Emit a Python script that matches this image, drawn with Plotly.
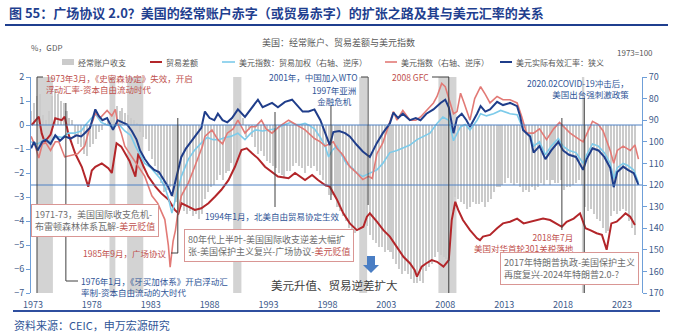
import plotly.graph_objects as go

# ---------------- data ----------------
# US current account balance, % of GDP, quarterly from 1973Q2
ca_first_year = 1973
ca_first_quarter = 2
current_account = [
    0.6, 0.9, 1.2,                 # 1973 Q2-Q4
    1.3, 0.4, 0.2, 0.6,            # 1974
    1.2, 1.5, 1.3, 1.0,            # 1975
    0.9, 0.6, 0.3, 0.2,            # 1976
    -0.5, -0.8, -0.9, -1.2,        # 1977
    -1.3, -0.9, -0.8, -0.6,        # 1978
    -0.3, -0.2, 0.1, 0.2,          # 1979
    0.2, 0.4, 0.8, 0.6,            # 1980
    0.7, 0.5, 0.4, 0.3,            # 1981
    0.2, 0.1, -0.3, -0.5,          # 1982
    -0.6, -1.1, -1.4, -1.7,        # 1983
    -2.1, -2.4, -2.8, -2.7,        # 1984
    -2.6, -3.0, -3.2, -3.5,        # 1985
    -3.4, -3.6, -3.7, -3.6,        # 1986
    -3.8, -3.7, -3.9, -3.7,        # 1987
    -3.1, -2.8, -2.6, -2.5,        # 1988
    -2.3, -2.1, -2.3, -2.0,        # 1989
    -1.9, -1.6, -1.8, -1.5,        # 1990
    0.9, 0.3, -0.5, -0.2,          # 1991
    -0.5, -0.9, -1.2, -1.1,        # 1992
    -1.3, -1.5, -1.6, -1.7,        # 1993
    -1.8, -2.0, -2.1, -2.2,        # 1994
    -1.9, -1.9, -1.7, -1.6,        # 1995
    -1.7, -1.8, -2.0, -1.7,        # 1996
    -1.8, -1.7, -1.9, -2.1,        # 1997
    -2.3, -2.6, -2.9, -2.9,        # 1998
    -3.0, -3.4, -3.6, -3.8,        # 1999
    -4.0, -4.3, -4.6, -4.5,        # 2000
    -4.3, -4.2, -4.1, -4.2,        # 2001
    -4.6, -4.8, -4.9, -5.1,        # 2002
    -5.1, -5.3, -5.2, -5.3,        # 2003
    -5.6, -5.8, -6.0, -6.2,        # 2004
    -6.1, -6.2, -6.4, -6.6,        # 2005
    -6.6, -6.5, -6.6, -6.1,        # 2006
    -5.9, -5.8, -5.5, -5.3,        # 2007
    -5.4, -5.5, -5.6, -5.0,        # 2008
    -3.6, -3.0, -3.1, -3.2,        # 2009
    -3.3, -3.5, -3.4, -3.2,        # 2010
    -3.3, -3.3, -3.2, -3.4,        # 2011
    -3.2, -3.1, -2.8, -2.6,        # 2012
    -2.6, -2.5, -2.4, -2.2,        # 2013
    -2.4, -2.5, -2.4, -2.6,        # 2014
    -2.8, -2.7, -2.8, -2.6,        # 2015
    -2.7, -2.6, -2.4, -2.5,        # 2016
    -2.3, -2.5, -2.3, -2.4,        # 2017
    -2.4, -2.3, -2.7, -2.6,        # 2018
    -2.6, -2.5, -2.4, -2.3,        # 2019
    -2.5, -3.4, -3.6, -3.5,        # 2020
    -3.7, -3.9, -4.0, -4.3,        # 2021
    -4.5, -4.4, -3.8, -3.6,        # 2022
    -3.7, -3.6, -3.5, -3.6,        # 2023
    -4.0, -4.3, -4.6,              # 2024 Q1-Q3
]

# Trade balance, % of GDP (left axis)
trade_t = [1973.4, 1974.0, 1974.25, 1974.5, 1975.0, 1975.4, 1975.95, 1976.2, 1976.5, 1977.1,
           1977.65, 1978.2, 1978.5, 1978.8, 1979.35, 1979.9, 1980.2, 1980.6, 1981.0, 1981.3,
           1981.7, 1982.2, 1982.45, 1982.9, 1983.3, 1983.9, 1984.4, 1985.0, 1985.55, 1985.85,
           1986.1, 1986.7, 1987.25, 1987.8, 1988.4, 1988.95, 1989.5, 1990.1, 1990.65, 1991.2,
           1991.65, 1992.1, 1992.6, 1993.2, 1993.8, 1994.3, 1995.2, 1995.75, 1996.6, 1997.2,
           1997.7, 1998.3, 1998.7, 1999.3, 1999.85, 2000.4, 2001.0, 2001.55, 2001.85, 2002.1,
           2002.7, 2003.25, 2003.8, 2004.4, 2004.95, 2005.5, 2005.9, 2006.1, 2006.5, 2006.9,
           2007.35, 2007.8, 2008.35, 2008.8, 2009.05, 2009.35, 2009.6, 2010.0, 2010.6, 2011.2,
           2011.45, 2011.7, 2012.3, 2012.9, 2013.4, 2014.0, 2014.6, 2015.15, 2015.7, 2016.3,
           2016.8, 2017.4, 2017.96, 2018.4, 2018.8, 2019.4, 2019.94, 2020.4, 2020.8, 2021.35,
           2021.8, 2022.2, 2022.6, 2023.05, 2023.34, 2023.8, 2024.2, 2024.6]
trade_v = [0.0, 0.35, -0.35, -0.7, -0.4, 0.28, 0.2, 0.35, -0.35, -1.2,
           -1.74, -2.57, -1.9, -1.74, -1.6, -1.8, -2.0, -0.76, -0.9, -1.18,
           -1.5, -2.15, -1.18, -1.74, -2.15, -2.57, -2.85, -3.1, -3.54, -3.68,
           -3.26, -3.4, -3.54, -3.47, -3.26, -2.99, -2.7, -2.3, -1.74, -1.04,
           -0.97, -1.18, -1.39, -1.74, -1.95, -2.15, -2.22, -2.0, -2.29, -2.08,
           -2.29, -2.5, -2.57, -3.1, -3.68, -4.1, -4.38, -4.24, -3.82, -3.68,
           -4.03, -4.38, -4.65, -5.07, -5.49, -5.76, -6.04, -6.32, -5.9, -5.76,
           -5.63, -5.7, -5.9, -5.63, -3.96, -3.2, -3.54, -3.96, -4.38, -4.72,
           -4.8, -4.65, -4.58, -4.3, -4.1, -4.03, -3.9, -4.1, -4.03, -3.96,
           -3.9, -3.96, -4.1, -4.24, -4.03, -3.9, -3.68, -4.3, -4.38, -4.51,
           -4.58, -5.2, -4.1, -4.03, -3.9, -3.68, -3.82, -4.17]

# Trade-weighted dollar index, 1973=100 (right axis, reversed)
twd_t = [1973.35, 1973.9, 1974.5, 1975.0, 1975.5, 1976.0, 1976.5, 1977.0, 1977.6, 1978.0,
         1978.8, 1979.3, 1979.7, 1980.3, 1980.8, 1981.3, 1981.8, 1982.2, 1982.6, 1983.0,
         1983.5, 1983.9, 1984.3, 1984.7, 1985.0, 1985.3, 1985.7, 1986.1, 1986.7, 1987.2,
         1987.8, 1988.3, 1988.8, 1989.3, 1989.8, 1990.3, 1990.9, 1991.5, 1992.0, 1992.4,
         1993.0, 1993.6, 1994.1, 1994.9, 1995.4, 1995.75, 1996.2, 1996.6, 1997.0, 1997.4,
         1997.9, 1998.3, 1998.6, 1998.9, 1999.3, 1999.7, 2000.1, 2000.6, 2001.0, 2001.5,
         2002.1, 2002.7, 2003.2, 2003.8, 2004.4, 2004.9, 2005.5, 2006.1, 2006.6, 2007.2,
         2007.8, 2008.3, 2008.8, 2009.2, 2009.8, 2010.2, 2010.6, 2011.2, 2011.5, 2012.0,
         2012.6, 2013.2, 2014.0, 2014.6, 2015.1, 2015.7, 2016.0, 2016.5, 2017.0, 2017.5,
         2018.1, 2018.5, 2019.0, 2019.6, 2020.2, 2020.5, 2021.0, 2021.5, 2022.0, 2022.5,
         2022.8, 2023.1, 2023.6, 2024.0, 2024.5, 2024.9]
twd_v = [100, 101, 99, 100, 97.5, 98, 96, 96, 95, 92,
         87, 91, 92, 93, 92, 95, 97, 102, 106, 110,
         112, 114.5, 117, 121, 126, 133, 125, 116, 108, 104,
         100.5, 98, 99, 99, 98, 97.5, 96, 99, 96, 94.5,
         95, 94.5, 94, 92, 91, 92, 92, 91.5, 92.5, 94,
         98, 102, 107, 104, 102, 106, 110, 112, 114.5, 116,
         114.5, 113, 110, 105, 104, 103, 101.5, 99, 97.5, 96,
         91.5, 88.5, 90, 99.5, 93, 92, 94.5, 90, 87, 88,
         87, 85.5, 87, 87.5, 94, 97, 102, 100, 106, 102,
         98.5, 102, 104, 105, 110, 106, 101, 102, 105, 110,
         117, 112, 110, 111, 113, 119]

# US dollar index, 1973=100 (right axis, reversed)
dxy_t = [1973.35, 1973.7, 1974.0, 1974.3, 1974.6, 1975.0, 1975.4, 1975.7, 1976.2, 1976.8,
         1977.3, 1977.9, 1978.3, 1978.6, 1978.8, 1979.2, 1979.5, 1979.8, 1980.2, 1980.5,
         1980.7, 1981.0, 1981.3, 1981.9, 1982.4, 1983.0, 1983.6, 1984.1, 1984.7, 1985.0,
         1985.15, 1985.4, 1985.6, 1985.8, 1986.1, 1986.7, 1987.2, 1987.5, 1987.9, 1988.1,
         1988.7, 1989.2, 1989.6, 1990.0, 1990.5, 1990.9, 1991.5, 1992.0, 1992.4, 1992.9,
         1993.3, 1993.8, 1994.4, 1995.2, 1995.8, 1996.6, 1997.4, 1997.9, 1998.3, 1998.7,
         1999.0, 1999.3, 1999.8, 2000.4, 2001.0, 2001.5, 2002.0, 2002.3, 2002.7, 2003.2,
         2003.8, 2004.1, 2004.4, 2004.9, 2005.5, 2006.0, 2006.4, 2006.9, 2007.5, 2007.8,
         2008.2, 2008.5, 2008.8, 2009.2, 2009.5, 2009.8, 2010.1, 2010.6, 2011.0, 2011.5,
         2011.9, 2012.3, 2012.9, 2013.4, 2014.0, 2014.6, 2015.0, 2015.4, 2016.0, 2016.5,
         2017.1, 2017.7, 2018.2, 2018.7, 2019.1, 2019.9, 2020.2, 2020.8, 2021.0, 2021.5,
         2021.9, 2022.5, 2022.8, 2023.1, 2023.6, 2024.2, 2024.6, 2024.9]
dxy_v = [97.5, 102, 107.5, 101, 100.5, 104, 100, 100, 107, 106,
         105.5, 102, 94, 90, 86.5, 89, 87, 85.5, 88, 85,
         91.5, 96, 102, 107, 111.5, 116, 125, 128.5, 136, 148,
         158, 146, 141, 133, 125, 119, 112, 108, 102, 97.5,
         94.5, 99, 101, 96, 94, 90, 96, 93, 93, 90,
         94, 96, 93, 90, 92, 94.5, 98.5, 100, 102, 101,
         100, 103, 106, 111.5, 114.5, 117.5, 116, 117, 105.5, 100.5,
         91.5, 86, 90, 85.5, 90, 90, 88.5, 85.5, 82, 79,
         73, 74.5, 80, 87, 86, 77.5, 82, 90, 80, 74.5,
         78, 82, 79, 80.5, 80.5, 82, 88.5, 96, 96, 94,
         99, 94, 91, 94, 96, 99, 100, 93, 90.5, 92,
         95, 104, 110, 104, 102, 104, 101.5, 108]

# Real effective exchange rate of the dollar, narrow (right axis, reversed)
reer_t = [1973.35, 1973.6, 1973.9, 1974.3, 1974.6, 1975.0, 1975.4, 1975.8, 1976.2, 1976.7,
          1977.2, 1977.6, 1977.9, 1978.35, 1978.8, 1979.1, 1979.4, 1979.8, 1980.3, 1980.7,
          1981.1, 1981.5, 1981.9, 1982.3, 1982.6, 1983.0, 1983.4, 1983.8, 1984.2, 1984.7,
          1985.0, 1985.3, 1985.6, 1985.9, 1986.1, 1986.5, 1986.9, 1987.4, 1987.8, 1988.1,
          1988.5, 1988.9, 1989.2, 1989.6, 1990.0, 1990.4, 1990.9, 1991.5, 1992.1, 1992.6,
          1993.0, 1993.4, 1993.8, 1994.3, 1994.9, 1995.5, 1995.9, 1996.4, 1996.9, 1997.4,
          1997.9, 1998.3, 1998.7, 1999.0, 1999.5, 2000.0, 2000.4, 2001.0, 2001.5, 2002.1,
          2002.7, 2003.2, 2003.8, 2004.1, 2004.5, 2004.9, 2005.5, 2006.0, 2006.4, 2006.9,
          2007.5, 2008.1, 2008.5, 2008.8, 2009.2, 2009.5, 2009.9, 2010.3, 2010.6, 2011.2,
          2011.5, 2011.9, 2012.3, 2012.9, 2013.4, 2014.0, 2014.6, 2014.85, 2015.1, 2015.7,
          2016.0, 2016.5, 2017.0, 2017.5, 2018.1, 2018.5, 2019.0, 2019.6, 2020.2, 2020.5,
          2021.0, 2021.5, 2022.0, 2022.5, 2022.8, 2023.1, 2023.6, 2024.0, 2024.5, 2024.9]
reer_v = [103, 100, 104, 100, 99, 101, 97, 99.5, 97.5, 98.5,
          97, 97.5, 96, 93.5, 85, 88, 90, 89, 94.5, 90,
          91, 92, 95, 99, 104, 108, 111, 113, 114, 118,
          121, 125, 118, 112, 107, 103, 100, 96, 93.5, 86,
          89, 90, 87, 90, 91, 89, 85, 88.5, 84, 80.5,
          84, 83, 82, 84, 81.5, 80.5, 83, 86, 86, 85,
          90, 96, 101.5, 95.5, 95, 96, 97.5, 101.5, 104.5, 107,
          100.5, 96, 91.5, 86.5, 89, 87, 90, 89, 90, 87,
          85, 82, 80.5, 84, 96, 89, 87, 90, 93, 87,
          83.5, 86, 85, 81.5, 83, 82, 83.5, 88, 94.5, 97.5,
          105, 102, 108, 104, 100, 104, 106, 107, 113, 108,
          103, 104, 107, 112, 121, 114, 111.5, 113, 114.5, 120]

# NBER recessions (shaded)
recessions = [(1973.87, 1975.2), (1980.0, 1980.5), (1981.5, 1982.87), (1990.5, 1991.2),
              (2001.2, 2001.87), (2007.92, 2009.45), (2020.1, 2020.3)]

# Event dates marked by pointer lines
event_dates = {
    "smithsonian": 1973.85,
    "jamaica": 1976.3,
    "plaza": 1985.8,
    "nafta": 1994.05,
    "asia": 1998.8,
    "wto": 2001.95,
    "gfc": 2008.8,
    "tariff": 2018.4,
    "covid": 2020.3,
}

tick_years = list(range(1973, 2024, 5))

# ---------------- layout helpers ----------------
W, H = 680, 336
ML, MR, MT, MB = 31, 38, 77, 43
PW, PH = W - ML - MR, H - MT - MB


def fx(px):
    return (px - ML) / PW


def fy(py):
    return (H - MB - py) / PH


FONT = "Noto Sans CJK SC"
RED_T = "#C0504D"
BLUE_T = "#2F5597"
GREY_T = "#6E6E6E"
AXIS = "#6F9FD8"
TICK = "#3D5A8A"

C_BAR = "#CBCBCB"
C_TRADE = "#B3262A"
C_TWD = "#7DCBEA"
C_DXY = "#E27A76"
C_REER = "#1F3D8A"

fig = go.Figure()

# quarterly bar positions (mid-quarter, decimal years)
ca_x = []
for i in range(len(current_account)):
    q = ca_first_quarter - 1 + i
    ca_x.append(ca_first_year + q // 4 + (q % 4) / 4 + 0.125)

fig.add_trace(go.Bar(x=ca_x, y=current_account, width=0.13, marker_color=C_BAR,
                     marker_line_width=0, name="经常账户收支", yaxis="y"))
fig.add_trace(go.Scatter(x=trade_t, y=trade_v, mode="lines", yaxis="y", name="贸易差额",
                         line=dict(color=C_TRADE, width=2)))
fig.add_trace(go.Scatter(x=twd_t, y=twd_v, mode="lines", yaxis="y2",
                         name="美元指数：贸易加权（右轴、逆序）",
                         line=dict(color=C_TWD, width=1.6)))
fig.add_trace(go.Scatter(x=dxy_t, y=dxy_v, mode="lines", yaxis="y2",
                         name="美元指数（右轴、逆序）",
                         line=dict(color=C_DXY, width=1.6)))
fig.add_trace(go.Scatter(x=reer_t, y=reer_v, mode="lines", yaxis="y2",
                         name="美元实际有效汇率：狭义",
                         line=dict(color=C_REER, width=2)))

shapes = []
for a, b in recessions:
    shapes.append(dict(type="rect", xref="x", yref="paper", x0=a, x1=b, y0=0, y1=1,
                       fillcolor="#D3D3D3", line_width=0, layer="below"))

# reference lines at 0 and -2.5 (= 120 on the right axis)
for yv in (0, -2.5):
    shapes.append(dict(type="line", xref="paper", yref="y", x0=0, x1=1, y0=yv, y1=yv,
                       line=dict(color="#4F81C4", width=1)))


def vline(date, top_px, bot_px):
    shapes.append(dict(type="line", xref="x", yref="paper", x0=date, x1=date,
                       y0=fy(bot_px), y1=fy(top_px), line=dict(color="#404040", width=1)))


def hline_px(x0_px, x1_px, y_px):
    shapes.append(dict(type="line", xref="paper", yref="paper", x0=fx(x0_px), x1=fx(x1_px),
                       y0=fy(y_px), y1=fy(y_px), line=dict(color="#404040", width=1)))


vline(event_dates["smithsonian"], 77, 293)
hline_px(37, 43, 77)
vline(event_dates["jamaica"], 103, 281)
hline_px(66, 78, 281)
vline(event_dates["plaza"], 118, 253)
hline_px(171, 178, 253)
vline(event_dates["nafta"], 112, 207)
vline(event_dates["asia"], 106, 200)
vline(event_dates["wto"], 77, 205)
hline_px(361, 368, 77)
vline(event_dates["gfc"], 77, 293)
hline_px(432, 449, 77)
vline(event_dates["tariff"], 118, 230)
vline(event_dates["covid"], 98, 293)

# title underline and footer rule
shapes.append(dict(type="line", xref="paper", yref="paper", x0=fx(5), x1=fx(668),
                   y0=fy(25), y1=fy(25), line=dict(color="#1F3F8F", width=2)))
shapes.append(dict(type="line", xref="paper", yref="paper", x0=fx(13), x1=fx(660),
                   y0=fy(311), y1=fy(311), line=dict(color="#2F4F9F", width=2)))

# blue down arrow
ax, at, am, ab = 371, 256, 265, 273
path = (f"M {fx(ax-4)} {fy(at)} L {fx(ax+4)} {fy(at)} L {fx(ax+4)} {fy(am)} "
        f"L {fx(ax+8)} {fy(am)} L {fx(ax)} {fy(ab)} L {fx(ax-8)} {fy(am)} "
        f"L {fx(ax-4)} {fy(am)} Z")
shapes.append(dict(type="path", xref="paper", yref="paper", path=path,
                   fillcolor="#4A7EC4", line_width=0))

# custom legend
LEG_Y = 62
shapes.append(dict(type="rect", xref="paper", yref="paper", x0=fx(62), x1=fx(74),
                   y0=fy(LEG_Y + 3), y1=fy(LEG_Y - 3), fillcolor=C_BAR, line_width=0))
legend_lines = [(150, 162, C_TRADE, 2), (222, 235, C_TWD, 1.6),
                (385, 397, C_DXY, 1.6), (500, 512, C_REER, 2)]
for x0, x1, c, w in legend_lines:
    shapes.append(dict(type="line", xref="paper", yref="paper", x0=fx(x0), x1=fx(x1),
                       y0=fy(LEG_Y), y1=fy(LEG_Y), line=dict(color=c, width=w)))

ann = []


def text(s, x_px, y_px, size=8.5, color=GREY_T, xa="left", align="left", **kw):
    d = dict(text=s, xref="paper", yref="paper", x=fx(x_px), y=fy(y_px), showarrow=False,
             xanchor=xa, yanchor="middle", align=align,
             font=dict(family=FONT, size=size, color=color))
    d.update(kw)
    ann.append(d)


legend_texts = [("经常账户收支", 76), ("贸易差额", 164), ("美元指数：贸易加权（右轴、逆序）", 237),
                ("美元指数（右轴、逆序）", 399), ("美元实际有效汇率：狭义", 514)]
for s, x in legend_texts:
    text(s, x, LEG_Y, size=8, color="#595959")

text("<b>图 55：广场协议 2.0？美国的经常账户赤字（或贸易赤字）的扩张之路及其与美元汇率的关系</b>",
     7, 12, size=13, color="#1F3F8F")
text("美国：经常账户、贸易差额与美元指数", 338, 42, size=9, color="#595959", xa="center")
text("%，GDP", 29, 48, size=8, color="#595959")
text("1973=100", 615, 52, size=8, color="#595959")

text("1973年3月，《史密森协定》失效，开启<br>浮动汇率-资本自由流动时代", 44, 83, color=RED_T)
text("1976年1月，《牙买加体系》开启浮动汇<br>率制-资本自由流动的大时代", 79, 286.5, color=BLUE_T)
text("1985年9月，广场协议", 169, 253, color=RED_T, xa="right")
text("1994年1月，北美自由贸易协定生效", 203, 216, color=BLUE_T)
text("1997年亚洲<br>金融危机", 334, 96, color=BLUE_T, xa="center", align="center")
text("2001年，中国加入WTO", 360, 77, color=BLUE_T, xa="right")
text("2008 GFC", 431, 77, color=RED_T, xa="right")
text("2018年7月<br>美国对华首轮301关税落地", 576, 242, color=RED_T, xa="right", align="right")
text("2020.02COVID-19冲击后，<br>美国出台强刺激政策", 631, 88, color=BLUE_T, xa="right", align="right")

box = dict(bordercolor="#D99694", borderwidth=1, borderpad=3, bgcolor="white")
text(f"1971-73，美国国际收支危机-<br>布雷顿森林体系瓦解-<span style='color:{RED_T}'>美元贬值</span>",
     31, 220.5, size=9, **box)
text(f"80年代上半叶-美国国际收支逆差大幅扩<br>张-美国保护主义复兴-广场协议-<span style='color:{RED_T}'>美元贬值</span>",
     184, 245.5, size=9, **box)
text("2017年特朗普执政-美国保护主义<br>再度复兴-2024年特朗普2.0-?", 500, 268.5, size=9, **box)

text("美元升值、贸易逆差扩大", 334, 285, size=11.5, color="#404040", xa="center")
text("资料来源：CEIC，申万宏源研究", 12, 325, size=11, color=BLUE_T)

fig.update_layout(
    width=W, height=H, margin=dict(l=ML, r=MR, t=MT, b=MB),
    paper_bgcolor="white", plot_bgcolor="white",
    showlegend=False, bargap=0,
    font=dict(family=FONT, size=9, color=TICK),
    xaxis=dict(range=[1973.34, 2025.2], tickvals=[y + 0.5 for y in tick_years],
               ticktext=[str(y) for y in tick_years], showgrid=False, zeroline=False,
               showline=False, ticks="", ticklabelstandoff=5,
               tickfont=dict(size=9, color=TICK)),
    yaxis=dict(range=[-7, 2], tickvals=list(range(-7, 3)), showgrid=False, zeroline=False,
               showline=True, linecolor=AXIS, linewidth=1, ticks="outside", ticklen=4,
               tickcolor=AXIS, tickfont=dict(size=9, color=TICK)),
    yaxis2=dict(range=[170, 70], overlaying="y", side="right", tickvals=list(range(70, 171, 10)),
                showgrid=False, zeroline=False, showline=True, linecolor=AXIS, linewidth=1,
                ticks="outside", ticklen=4, tickcolor=AXIS, tickfont=dict(size=9, color=TICK)),
    shapes=shapes, annotations=ann,
)

fig.write_html("out.html")
